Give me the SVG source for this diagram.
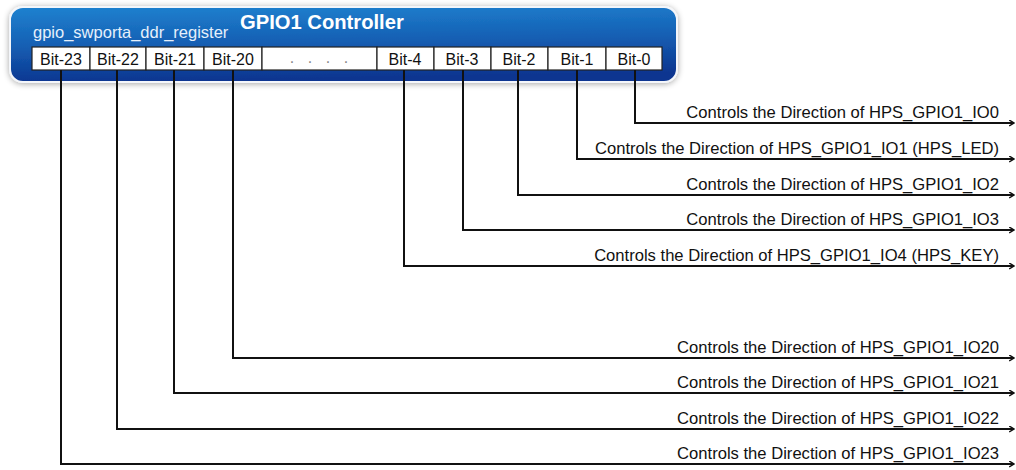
<svg xmlns="http://www.w3.org/2000/svg" width="1016" height="470" viewBox="0 0 1016 470">
<defs>
<linearGradient id="blue" x1="0" y1="0" x2="0.15" y2="1">
<stop offset="0" stop-color="#1f82d0"/>
<stop offset="0.5" stop-color="#1560b4"/>
<stop offset="1" stop-color="#0c3590"/>
</linearGradient>
<filter id="sh" x="-5%" y="-30%" width="110%" height="160%">
<feGaussianBlur in="SourceAlpha" stdDeviation="3"/>
<feOffset dx="0" dy="1"/>
<feComponentTransfer><feFuncA type="linear" slope="0.35"/></feComponentTransfer>
<feMerge><feMergeNode/><feMergeNode in="SourceGraphic"/></feMerge>
</filter>
<marker id="arr" viewBox="0 0 10 10" refX="9" refY="5" markerWidth="6" markerHeight="7" orient="auto" markerUnits="userSpaceOnUse">
<path d="M1,0 L9,5 L1,10" fill="none" stroke="#111" stroke-width="2.4"/>
</marker>
<style>
.bit{fill:#fff;stroke:#222;stroke-width:1.2}
.bt{font-family:"Liberation Sans",Arial,sans-serif;font-size:16px;fill:#111;text-anchor:middle}
.dot{font-family:"Liberation Sans",Arial,sans-serif;font-size:16px;fill:#888;text-anchor:middle}
.lbl{font-family:"Liberation Sans",Arial,sans-serif;font-size:16.6px;fill:#111;text-anchor:end}
.wire{fill:none;stroke:#111;stroke-width:2}
</style>
</defs>
<rect width="1016" height="470" fill="#fff"/>
<g id="controller">
<rect x="10" y="7" width="667" height="75" rx="13" ry="13" fill="url(#blue)" stroke="#f4f6fa" stroke-width="2" filter="url(#sh)"/>
<text x="240" y="29" font-family="Liberation Sans,Arial,sans-serif" font-size="20.2" font-weight="bold" fill="#fff">GPIO1 Controller</text>
<text x="33" y="38" font-family="Liberation Sans,Arial,sans-serif" font-size="16.5" fill="#e6f0fb">gpio_swporta_ddr_register</text>
</g>
<g id="bits">
<g id="bit23"><rect class="bit" x="32" y="47" width="58" height="23"/><text class="bt" x="61" y="65">Bit-23</text></g>
<g id="bit22"><rect class="bit" x="90" y="47" width="56" height="23"/><text class="bt" x="118" y="65">Bit-22</text></g>
<g id="bit21"><rect class="bit" x="146" y="47" width="58" height="23"/><text class="bt" x="175" y="65">Bit-21</text></g>
<g id="bit20"><rect class="bit" x="204" y="47" width="58" height="23"/><text class="bt" x="233" y="65">Bit-20</text></g>
<g id="bitdots"><rect class="bit" x="262" y="47" width="115" height="23"/><text class="dot" x="292" y="63">.</text><text class="dot" x="310" y="63">.</text><text class="dot" x="328" y="63">.</text><text class="dot" x="346" y="63">.</text></g>
<g id="bit4"><rect class="bit" x="377" y="47" width="57" height="23"/><text class="bt" x="405" y="65">Bit-4</text></g>
<g id="bit3"><rect class="bit" x="434" y="47" width="57" height="23"/><text class="bt" x="462" y="65">Bit-3</text></g>
<g id="bit2"><rect class="bit" x="491" y="47" width="57" height="23"/><text class="bt" x="519" y="65">Bit-2</text></g>
<g id="bit1"><rect class="bit" x="548" y="47" width="58" height="23"/><text class="bt" x="577" y="65">Bit-1</text></g>
<g id="bit0"><rect class="bit" x="606" y="47" width="56" height="23"/><text class="bt" x="634" y="65">Bit-0</text></g>
</g>
<g id="connectors">
<path class="wire" marker-end="url(#arr)" d="M635,70 V123 H1014"/>
<path class="wire" marker-end="url(#arr)" d="M577,70 V159 H1014"/>
<path class="wire" marker-end="url(#arr)" d="M518,70 V195 H1014"/>
<path class="wire" marker-end="url(#arr)" d="M463,70 V230 H1014"/>
<path class="wire" marker-end="url(#arr)" d="M404,70 V266 H1014"/>
<path class="wire" marker-end="url(#arr)" d="M233,70 V358 H1014"/>
<path class="wire" marker-end="url(#arr)" d="M174,70 V393 H1014"/>
<path class="wire" marker-end="url(#arr)" d="M117,70 V429 H1014"/>
<path class="wire" marker-end="url(#arr)" d="M61,70 V464 H1014"/>
</g>
<g id="labels">
<text class="lbl" x="999" y="118">Controls the Direction of HPS_GPIO1_IO0</text>
<text class="lbl" x="999" y="154">Controls the Direction of HPS_GPIO1_IO1 (HPS_LED)</text>
<text class="lbl" x="999" y="190">Controls the Direction of HPS_GPIO1_IO2</text>
<text class="lbl" x="999" y="225">Controls the Direction of HPS_GPIO1_IO3</text>
<text class="lbl" x="999" y="261">Controls the Direction of HPS_GPIO1_IO4 (HPS_KEY)</text>
<text class="lbl" x="999" y="353">Controls the Direction of HPS_GPIO1_IO20</text>
<text class="lbl" x="999" y="388">Controls the Direction of HPS_GPIO1_IO21</text>
<text class="lbl" x="999" y="424">Controls the Direction of HPS_GPIO1_IO22</text>
<text class="lbl" x="999" y="459">Controls the Direction of HPS_GPIO1_IO23</text>
</g>
</svg>
